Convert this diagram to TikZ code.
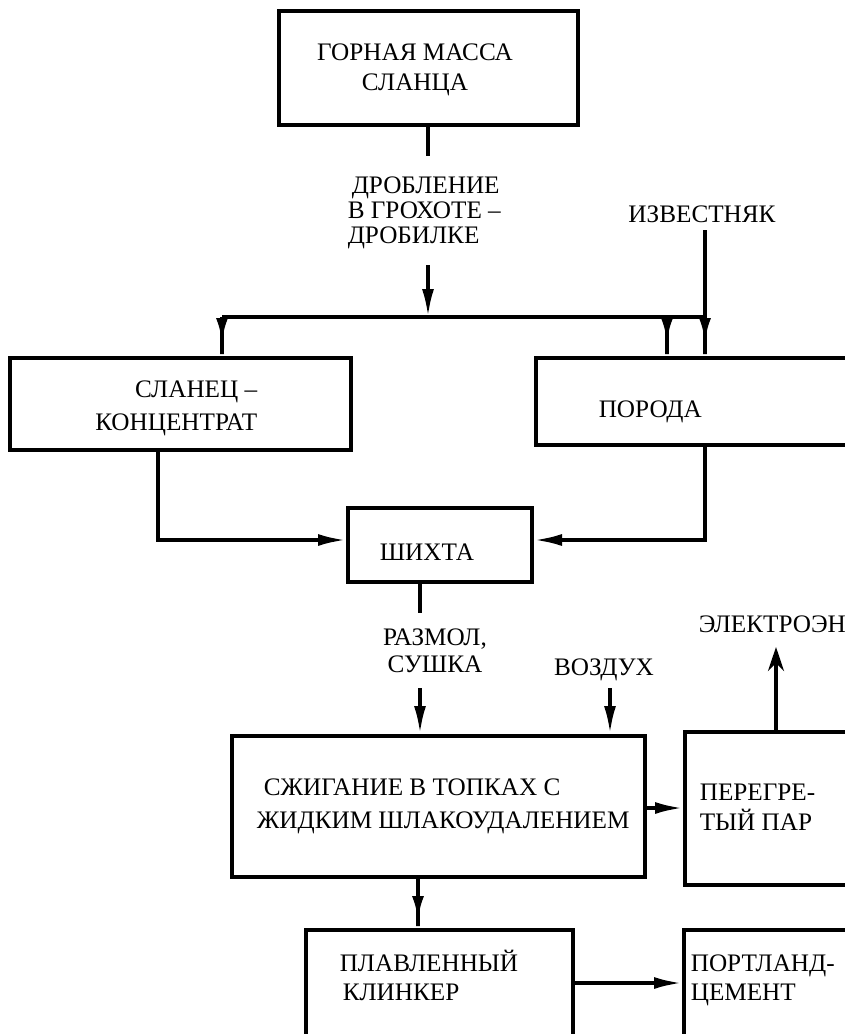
\documentclass[tikz,border=0pt]{standalone}
\usepackage{fontspec}
\setmainfont{Liberation Serif}
\usepackage{tikz}
\usetikzlibrary{arrows.meta, positioning}
\tikzset{
  every picture/.style={font=\fontsize{12.6}{15}\selectfont, line width=1.8pt, >=Latex},
  caja/.style={draw, line width=2pt, inner sep=0pt},
  texto/.style={inner sep=0pt, align=left, font=\fontsize{12.6}{#1}\selectfont},
  texto/.default=15pt,
  flecha/.style={-{Latex[length=14pt, width=6pt]}},
  flechab/.style={-{Latex[length=12pt, width=6pt] Rectangle[length=#1, width=0pt 1]}},
  flechab/.default=7pt,
  flechaa/.style={-{Stealth[length=12pt, width=8pt]}},
}

\begin{document}
\begin{tikzpicture}[x=0.5pt, y=-0.5pt]
  \useasboundingbox (0,0) rectangle (845,1034);
  \clip (0,0) rectangle (845,1034);
  % boxes: name / left / top / right / bottom
  \foreach \n/\xa/\ya/\xb/\yb in {masa/279/11/578/125, slanec/10/358/351/450,
      poroda/536/358/905/445, shihta/348/508/532/582, szhig/232/736/645/877,
      par/685/732/905/885, klinker/306/930/573/1060, cement/684/930/905/1060} {
    \node[caja, minimum width={(\xb-\xa)*0.5pt}, minimum height={(\yb-\ya)*0.5pt}]
      (\n) at ({(\xa+\xb)/2},{(\ya+\yb)/2}) {};
  }
  % texts in boxes (base = last line)
  \node[texto, align=center, anchor=base] (tmasa) at (415,90) {ГОРНАЯ МАССА\\СЛАНЦА};
  \node[texto=16.5pt, align=right, anchor=base east] (tslanec) at (259,430) {СЛАНЕЦ --\\КОНЦЕНТРАТ};
  \node[texto, anchor=base west] (tporoda) at (597,417) {ПОРОДА};
  \node[texto, anchor=base west] (tshihta) at (378,560) {ШИХТА};
  \node[texto=16.5pt, anchor=base west] (tszhig) at (255,828) {\hspace*{3.5pt}СЖИГАНИЕ В ТОПКАХ С\\ЖИДКИМ ШЛАКОУДАЛЕНИЕМ};
  \node[texto, anchor=base west] (tpar) at (698,830) {ПЕРЕГРЕ-\\ТЫЙ ПАР};
  \node[texto=14.5pt, anchor=base west] (tklinker) at (338,1000) {ПЛАВЛЕННЫЙ\\\hspace*{1.5pt}КЛИНКЕР};
  \node[texto=14.5pt, anchor=base west] (tcement) at (689,1000) {ПОРТЛАНД-\\ЦЕМЕНТ};
  % labels on the flows
  \node[texto=12.5pt, anchor=base west] (drob) at (346,243) {\hspace*{2pt}ДРОБЛЕНИЕ\\В ГРОХОТЕ --\\ДРОБИЛКЕ};
  \node[texto, anchor=base] (izv) at (702,222) {ИЗВЕСТНЯК};
  \node[texto=13.5pt, align=center, anchor=base] (razmol) at (435,672) {РАЗМОЛ,\\СУШКА};
  \node[texto, anchor=base] (vozduh) at (604,675) {ВОЗДУХ};
  \node[texto, anchor=base west] (elektro) at (697,632) {ЭЛЕКТРОЭН};
  % free ends and junctions
  \coordinate (c1) at (428,156);
  \coordinate (c2) at (428,265);
  \coordinate (r0) at (428,317);
  \coordinate (rL) at (222,317);
  \coordinate (rM) at (667,317);
  \coordinate (rR) at (705,317);
  \coordinate (i1) at (705,230);
  \coordinate (bajaL) at (158,540);
  \coordinate (bajaR) at (705,540);
  \coordinate (s1) at (420,613);
  \coordinate (s2) at (420,688);
  \coordinate (v1) at (610,688);
  \coordinate (t2) at (665,808);
  \coordinate (e1) at (776,647);
  \coordinate (k1) at (418,900);
  \coordinate (t1) at (630,983);
  % connectors
  \draw (masa.south -| c1) -- (c1);
  \draw[flecha] (c2) -- (r0);
  \draw (rL) -- (rR);
  \draw[flechab] (rL) -- (rL |- slanec.north);
  \draw[flechab] (rM) -- (rM |- poroda.north);
  \draw[flechab] (i1) -- (i1 |- poroda.north);
  \draw[flecha] (slanec.south -| bajaL) -- (bajaL) -- (bajaL -| shihta.west);
  \draw[flecha] (poroda.south -| bajaR) -- (bajaR) -- (bajaR -| shihta.east);
  \draw (shihta.south -| s1) -- (s1);
  \draw[flecha] (s2) -- (s2 |- szhig.north);
  \draw[flecha] (v1) -- (v1 |- szhig.north);
  \draw[flecha] (szhig.east |- t2) -- (par.west |- t2);
  \draw[flechaa] (par.north -| e1) -- (e1);
  \draw[flechab=4pt] (szhig.south -| k1) -- (klinker.north -| k1);
  \draw[flecha] (klinker.east |- t1) -- (cement.west |- t1);
\end{tikzpicture}
\end{document}
